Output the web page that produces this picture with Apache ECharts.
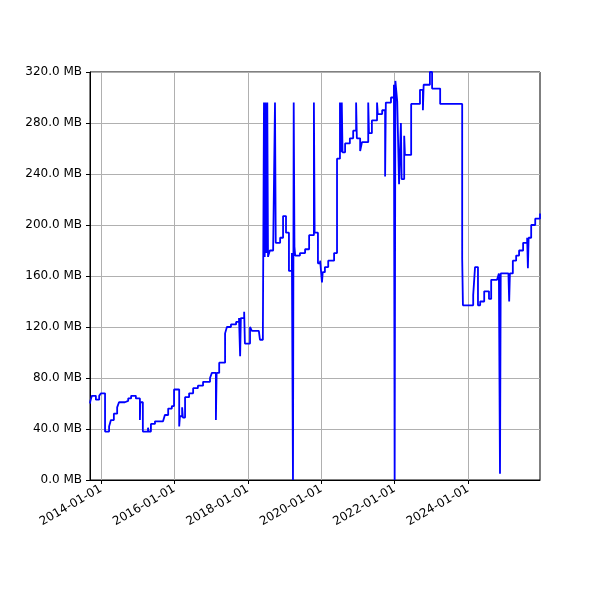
<!DOCTYPE html>
<html><head><meta charset="utf-8">
<script src="https://cdn.jsdelivr.net/npm/echarts@6/dist/echarts.min.js"></script>
<style>html,body{margin:0;padding:0;background:#fff}#c{width:600px;height:600px}</style>
</head><body><div id="c"></div>
<script>
// [decimal year, MB]; the line holds each value until the next point
var sizeSteps = [
  [2013.70,60],[2013.71,62],[2013.75,66],[2013.86,63],[2013.95,66],[2014.0,68],[2014.11,38],
  [2014.22,42],[2014.27,47],[2014.35,52],[2014.44,57],[2014.49,61],[2014.65,62],[2014.74,64],
  [2014.82,66],[2014.95,64],[2015.06,47],[2015.07,61],[2015.14,38],[2015.28,41],[2015.30,38],
  [2015.36,44],[2015.47,46],[2015.69,45],[2015.74,51],[2015.83,56],[2015.93,58],[2015.99,71],
  [2016.13,42],[2016.15,50],[2016.21,57],[2016.23,49],[2016.29,65],[2016.40,68],[2016.51,72],
  [2016.64,74],[2016.78,77],[2016.97,80],[2017.02,84],[2017.13,47],[2017.15,84],[2017.22,92],
  [2017.38,115],[2017.43,120],[2017.54,122],[2017.68,124],[2017.76,127],[2017.79,97],[2017.81,127],
  [2017.90,132],[2017.92,107],[2018.06,120],[2018.11,117],[2018.30,117],[2018.33,110],[2018.41,114],
  [2018.44,296],[2018.46,175],[2018.48,296],[2018.50,178],[2018.53,296],[2018.55,175],[2018.60,180],
  [2018.69,182],[2018.74,296],[2018.76,186],[2018.80,186],[2018.88,190],[2018.96,207],[2019.04,194],
  [2019.12,164],[2019.20,178],[2019.23,0],[2019.25,296],[2019.27,183],[2019.29,176],[2019.42,178],
  [2019.56,181],[2019.67,192],[2019.80,296],[2019.82,194],[2019.86,194],[2019.91,170],[2019.97,172],
  [2020.02,155],[2020.04,163],[2020.10,167],[2020.19,172],[2020.35,178],[2020.43,252],[2020.51,296],
  [2020.53,257],[2020.56,296],[2020.58,257],[2020.65,264],[2020.78,268],[2020.87,274],[2020.95,296],
  [2020.97,268],[2021.06,258],[2021.11,265],[2021.28,296],[2021.30,272],[2021.38,282],[2021.52,296],
  [2021.54,287],[2021.66,290],[2021.74,238],[2021.76,296],[2021.90,300],[2021.98,310],[2022.00,0],
  [2022.02,313],[2022.04,313],[2022.07,297],[2022.12,232],[2022.17,280],[2022.19,236],[2022.26,270],
  [2022.28,255],[2022.39,255],[2022.45,295],[2022.69,306],[2022.77,290],[2022.79,310],[2022.96,320],
  [2023.02,307],[2023.24,295],[2023.78,295],[2023.84,174],[2023.86,137],[2024.08,137],[2024.14,145],
  [2024.19,167],[2024.27,137],[2024.33,140],[2024.44,148],[2024.57,142],[2024.63,157],[2024.79,158],
  [2024.84,162],[2024.87,5],[2024.89,162],[2025.10,162],[2025.12,140],[2025.14,162],[2025.22,172],
  [2025.31,176],[2025.39,180],[2025.50,186],[2025.61,190],[2025.63,166],[2025.65,190],[2025.72,200],
  [2025.83,205],[2025.96,209]
];
var xTicks = [2014, 2016, 2018, 2020, 2022, 2024];
var yMax = 320, yStep = 40;

var chart = echarts.init(document.getElementById('c'));
var font = 'DejaVu Sans';
chart.setOption({
  animation: false,
  grid: {left: 90, right: 60, top: 72, bottom: 120, containLabel: false, outerBoundsMode: 'none'},
  xAxis: {
    type: 'value', min: 2013.70, max: 2025.96,
    axisLine: {onZero: false, lineStyle: {color: '#000'}},
    axisTick: {customValues: xTicks, length: 4, lineStyle: {color: '#000'}},
    axisLabel: {customValues: xTicks, rotate: 30, color: '#000', fontFamily: font, fontSize: 12,
      formatter: function (v) { return v + '-01-01'; }},
    splitLine: {show: true, lineStyle: {color: '#b0b0b0'}}
  },
  yAxis: {
    type: 'value', min: 0, max: yMax, interval: yStep,
    name: 'File Size (MB)', nameLocation: 'middle', nameGap: 90,
    nameTextStyle: {color: '#000', fontFamily: font, fontSize: 12},
    axisLine: {show: true, lineStyle: {color: '#000'}},
    axisTick: {show: true, length: 4, lineStyle: {color: '#000'}},
    axisLabel: {color: '#000', fontFamily: font, fontSize: 12,
      formatter: function (v) { return v.toFixed(1) + ' MB'; }},
    splitLine: {show: true, lineStyle: {color: '#b0b0b0'}}
  },
  series: [{
    type: 'line', step: 'end', showSymbol: false, data: sizeSteps,
    lineStyle: {color: '#0000ff', width: 1.8}
  }],
  graphic: [{type: 'rect', shape: {x: 90, y: 72, width: 450, height: 408},
    style: {fill: 'none', stroke: '#000', lineWidth: 1}, silent: true}]
});
</script></body></html>
